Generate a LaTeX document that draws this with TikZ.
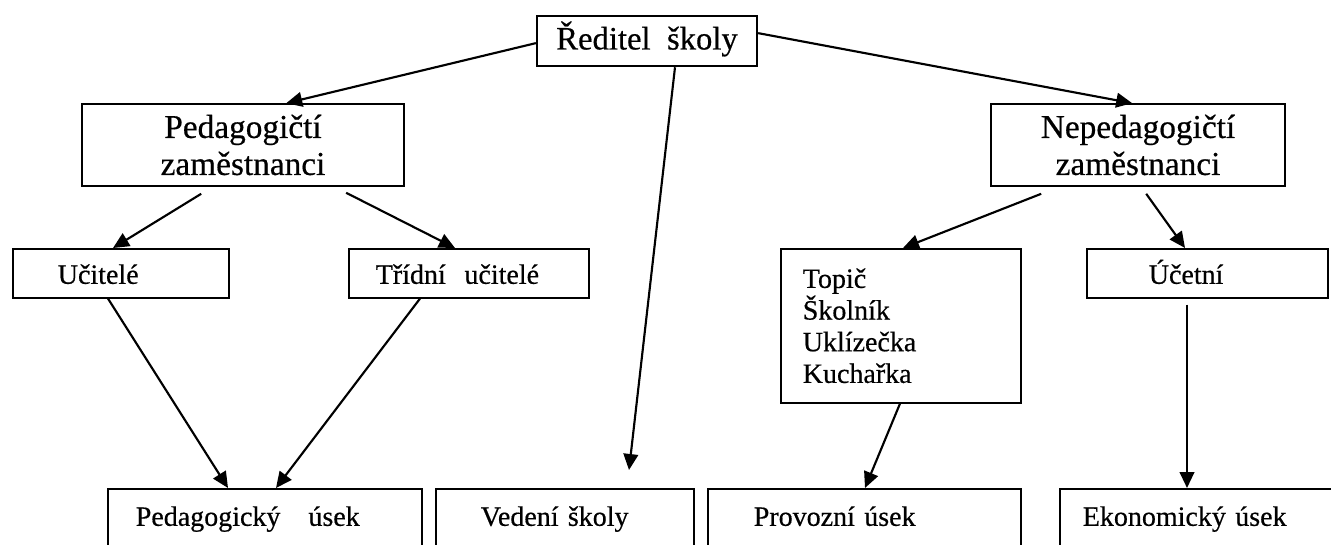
\documentclass[tikz,border=0pt]{standalone}
\usepackage{fontspec}
\setmainfont[FakeBold=0.5]{Liberation Serif}
\usetikzlibrary{arrows.meta}
\begin{document}
\begin{tikzpicture}[x=0.75pt,y=-0.75pt,
  box/.style={draw, line width=1.2pt, inner ysep=0pt},
  lbox/.style={box, anchor=north west, align=left},
  small/.style={font=\fontsize{21}{23.75}\selectfont},
  onerow/.style={text height=26.25pt, text depth=10.5pt},
  bottomrow/.style={text height=27.75pt, text depth=30pt},
  big/.style={font=\fontsize{25}{27.75}\selectfont},
  conn/.style={line width=1.6pt, -{Triangle[length=12pt,width=11pt]}}]
\useasboundingbox (0,0) rectangle (1331,545);
\clip (0,0) rectangle (1331,545);

% top
\node[box, line width=1.7pt, anchor=north, minimum width=165pt, inner xsep=0pt,
      text height=25pt, text depth=12.5pt, font=\fontsize{24.5}{28}\selectfont]
      (red) at (647,15) {Ředitel\ \ školy};

% second row
\node[box, big, minimum width=241.5pt, minimum height=61.5pt, align=center]
      (ped) at (243,145) {Pedagogičtí\\zaměstnanci};
\node[box, big, minimum width=220.5pt, minimum height=61.5pt, align=center]
      (neped) at (1138,145) {Nepedagogičtí\\zaměstnanci};

% third row
\node[lbox, small, onerow, inner xsep=33.75pt, text width=94.5pt] (uc) at (12,248) {Učitelé};
\node[lbox, small, onerow, inner xsep=20.25pt, text width=139.5pt] (tri) at (348,248) {Třídní\ \ učitelé};
\node[box, small, anchor=north west, align=left, inner xsep=16.5pt, text width=147pt,
      minimum height=115.5pt] (topic) at (780,248) {Topič\\Školník\\Uklízečka\\Kuchařka};
\node[lbox, small, onerow, inner xsep=46.5pt, text width=87.75pt] (uct) at (1086,248) {Účetní};

% bottom row
\node[lbox, small, bottomrow, inner xsep=21pt, text width=193.5pt] (pedu) at (107,488) {Pedagogický\ \ \ úsek};
\node[lbox, small, bottomrow, inner xsep=33.75pt, text width=126pt] (ved) at (435,488) {Vedení školy};
\node[lbox, small, bottomrow, inner xsep=34.5pt, text width=165.75pt] (prov) at (707,488) {Provozní\ úsek};
\node[lbox, small, bottomrow, inner xsep=17.25pt, text width=183pt] (eko) at (1059,488) {Ekonomický\ úsek};

% connectors
\draw[conn] ([shift={(0,2)}]red.west) -- ([shift={(205,0)}]ped.north west);
\draw[conn] ([shift={(0,-8)}]red.east) -- ([shift={(142,0)}]neped.north west);
\draw[conn] ([shift={(28,0)}]red.south) -- ([shift={(194,-18)}]ved.north west);
\draw[conn] ([shift={(120,7)}]ped.south west) -- ([shift={(101,0)}]uc.north west);
\draw[conn] ([shift={(265,6)}]ped.south west) -- ([shift={(107,0)}]tri.north west);
\draw[conn] ([shift={(51,7)}]neped.south west) -- ([shift={(123,0)}]topic.north west);
\draw[conn] ([shift={(156,7)}]neped.south west) -- ([shift={(99,0)}]uct.north west);
\draw[conn] ([shift={(96,0)}]uc.south west) -- ([shift={(121,0)}]pedu.north west);
\draw[conn] ([shift={(72,0)}]tri.south west) -- ([shift={(169,0)}]pedu.north west);
\draw[conn] ([shift={(120,0)}]topic.south west) -- ([shift={(158,0)}]prov.north west);
\draw[conn] ([shift={(101,6)}]uct.south west) -- ([shift={(128,0)}]eko.north west);
\end{tikzpicture}
\end{document}
